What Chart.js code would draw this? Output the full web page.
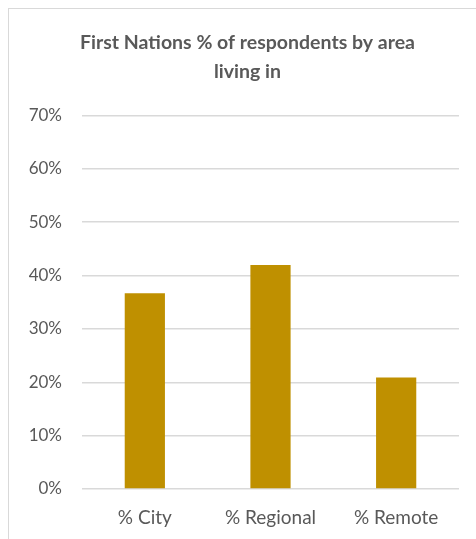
<!DOCTYPE html>
<html>
<head>
<meta charset="utf-8">
<script src="https://cdn.jsdelivr.net/npm/chart.js@4"></script>
<style>
  html, body { margin: 0; padding: 0; background: #fff; overflow: hidden; }
  #frame { position: absolute; left: 8px; top: 8px; width: 600px; height: 700px; border: 1px solid #d9d9d9; }
  #wrap { position: absolute; left: 0; top: 0; width: 476px; height: 539px; }
</style>
</head>
<body>
<div id="frame"></div>
<div id="wrap"><canvas id="chart"></canvas></div>
<script>
const titleLines = ['First Nations % of respondents by area', 'living in'];
const categories = ['% City', '% Regional', '% Remote'];
const values = [36.7, 42.0, 20.9];
const yMax = 70;
const yStep = 10;

const textColor = '#595959';
const gridColor = '#d9d9d9';

const ctx = document.getElementById('chart').getContext('2d');

// nudge the title so it is centred on the frame rather than the canvas
const shiftTitle = {
  id: 'shiftTitle',
  afterLayout: (chart) => {
    const tb = chart.titleBlock;
    if (tb) {
      tb.left += 18;
      tb.right += 18;
    }
  }
};

new Chart(ctx, {
  type: 'bar',
  data: {
    labels: categories,
    datasets: [{
      data: values,
      backgroundColor: '#bf9000',
      borderWidth: 0,
      barPercentage: 0.32,
      categoryPercentage: 1
    }]
  },
  options: {
    responsive: true,
    maintainAspectRatio: false,
    animation: false,
    layout: {
      padding: { top: 0, right: 17, bottom: 0, left: 0 }
    },
    plugins: {
      legend: { display: false },
      tooltip: { enabled: false },
      title: {
        display: true,
        text: titleLines,
        color: textColor,
        font: { family: 'Lato', size: 19.5, weight: 'bold', lineHeight: 1.5 },
        padding: { top: 28, bottom: 29 }
      }
    },
    scales: {
      x: {
        grid: { display: false },
        border: { display: false },
        ticks: {
          color: textColor,
          font: { family: 'Lato', size: 19 },
          padding: 9
        },
        afterFit: (scale) => { scale.height = 50; }
      },
      y: {
        min: 0,
        max: yMax,
        ticks: {
          stepSize: yStep,
          color: textColor,
          font: { family: 'Lato', size: 17 },
          padding: 20,
          callback: (v) => v + '%'
        },
        grid: {
          color: gridColor,
          lineWidth: 1.5,
          drawTicks: false
        },
        border: { display: false },
        afterFit: (scale) => { scale.width = 82; }
      }
    }
  },
  plugins: [shiftTitle]
});
</script>
</body>
</html>
